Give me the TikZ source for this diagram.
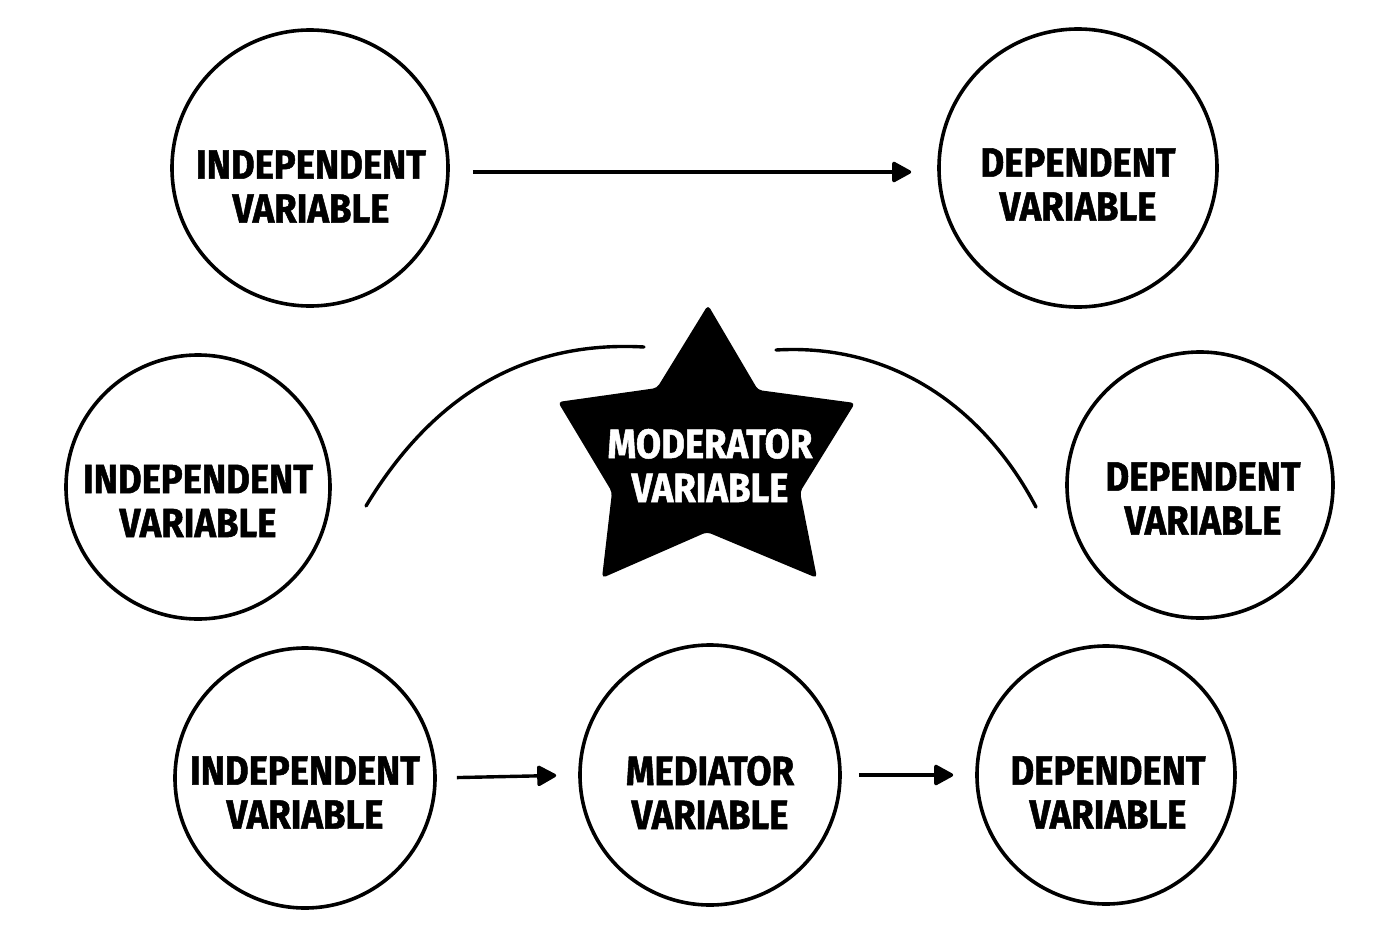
\documentclass[tikz,border=0pt]{standalone}
\usepackage{fontspec}
\newfontfamily\labfont[FakeStretch=0.89, BoldFeatures={FakeBold=1.2}]{Fira Sans}
\usetikzlibrary{arrows.meta}
\tikzset{
  varc/.style={draw=black, line width=3.6pt, circle, fill=white, inner sep=0pt},
  lab/.style={font=\labfont\bfseries\fontsize{41}{44}\selectfont, align=center, inner sep=0pt, text=black},
  starlab/.style={lab, text=white},
  arr/.style={line width=3.4pt, -{Triangle[length=21pt,width=22pt,round]}},
  arcline/.style={line width=3.4pt, line cap=round},
}
\begin{document}
\begin{tikzpicture}[x=1pt,y=-1pt]
\useasboundingbox (0,0) rectangle (1390,945);
\fill[white] (0,0) rectangle (1390,945);
% circles
\node[varc, minimum size=276pt] (iv1) at (310,168) {};
\node[varc, minimum size=278pt] (dv1) at (1078,168) {};
\node[varc, minimum size=264pt] (iv2) at (198,487) {};
\node[varc, minimum size=266pt] (dv2) at (1200,485) {};
\node[varc, minimum size=260pt] (iv3) at (305,778) {};
\node[varc, minimum size=260pt] (med) at (710,775) {};
\node[varc, minimum size=258pt] (dv3) at (1106,775) {};
% labels
\node[lab] (tiv1) at (311,186.5) {INDEPENDENT\\VARIABLE};
\node[lab] (tdv1) at (1078,184.5) {DEPENDENT\\VARIABLE};
\node[lab] (tiv2) at (198,501) {INDEPENDENT\\VARIABLE};
\node[lab] (tdv2) at (1203,498.5) {DEPENDENT\\VARIABLE};
\node[lab] (tiv3) at (305,792.5) {INDEPENDENT\\VARIABLE};
\node[lab] (tmed) at (710,792.5) {MEDIATOR\\VARIABLE};
\node[lab] (tdv3) at (1108,792.5) {DEPENDENT\\VARIABLE};
% star
\fill[black, rounded corners=4pt] (708,305) -- (758,390) -- (855,403) -- (800,492) -- (817,578) -- (707,532) -- (602,578) -- (612,492) -- (558,402) -- (657,388) -- cycle;
\node[starlab] (tmod) at (710,465.5) {MODERATOR\\VARIABLE};
% arrows
\draw[arr, shorten <=23pt, shorten >=26pt] ([yshift=-4pt]iv1.east) -- ([yshift=-4pt]dv1.west);
\draw[arr, shorten <=20pt, shorten >=22pt] (iv3.east) -- (med.west);
\draw[arr, shorten <=17pt, shorten >=22pt] (med.east) -- (dv3.west);
% arcs
\coordinate (l1) at (366,506);
\coordinate (l2) at (644,347);
\coordinate (r1) at (776,350);
\coordinate (r2) at (1036,507);
\draw[arcline] (l1) .. controls (430,400) and (520,340) .. (l2);
\draw[arcline] (r1) .. controls (895,343) and (985,410) .. (r2);
\end{tikzpicture}
\end{document}
